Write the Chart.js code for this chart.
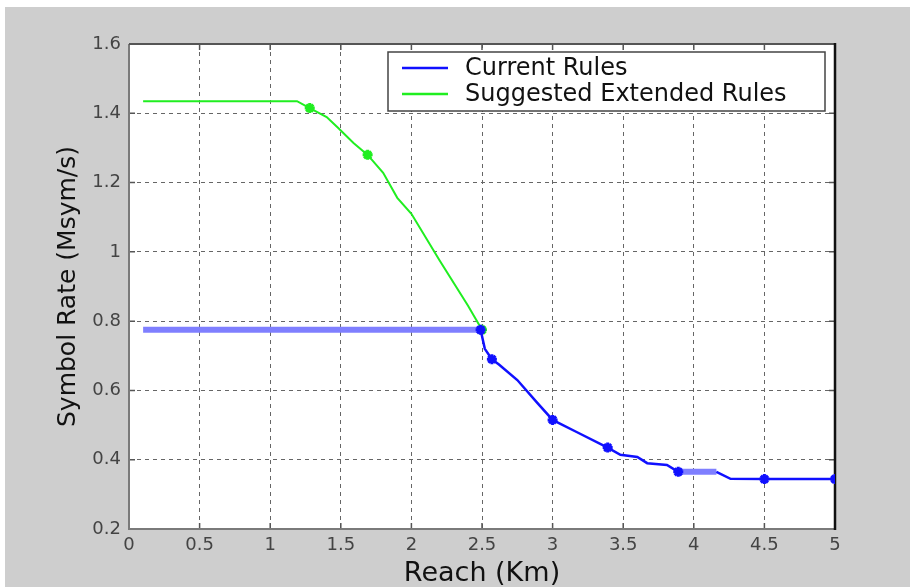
<!DOCTYPE html>
<html>
<head>
<meta charset="utf-8">
<script src="https://cdn.jsdelivr.net/npm/chart.js@4"></script>
<style>
  html, body { margin: 0; padding: 0; background: #fff; }
  canvas { display: block; }
</style>
</head>
<body>
<canvas id="grafico" width="910" height="587"></canvas>
<script>
// Current Rules (azul)
const actualX = [0.1, 2.49, 2.52, 2.57, 2.62, 2.75, 2.89, 3.0, 3.17, 3.39, 3.48, 3.6, 3.67, 3.81, 3.89, 4.16, 4.26, 4.5, 5.0];
const actualY = [0.775, 0.775, 0.72, 0.69, 0.675, 0.63, 0.565, 0.515, 0.48, 0.435, 0.414, 0.408, 0.39, 0.385, 0.365, 0.365, 0.345, 0.344, 0.344];
const actualMarcas = [2.49, 2.57, 3.0, 3.39, 3.89, 4.5, 5.0];

// Suggested Extended Rules (verde)
const sugeridoX = [0.1, 1.19, 1.28, 1.4, 1.48, 1.59, 1.69, 1.8, 1.9, 2.0, 2.2, 2.4, 2.5];
const sugeridoY = [1.435, 1.435, 1.415, 1.389, 1.358, 1.314, 1.28, 1.228, 1.156, 1.11, 0.975, 0.845, 0.775];
const sugeridoMarcas = [1.28, 1.69, 2.5];

const etiquetas = ['Current Rules', 'Suggested Extended Rules'];
const ejeX = { min: 0, max: 5, paso: 0.5, titulo: 'Reach (Km)' };
const ejeY = { min: 0.2, max: 1.6, paso: 0.2, titulo: 'Symbol Rate (Msym/s)' };

// tramos que salen mas gruesos en la imagen
const tramosGruesos = [0, 14];

function puntos(xs, ys) {
    return xs.map((x, i) => ({ x: x, y: ys[i] }));
}

// 1.0 -> "1", 0.5 -> "0.5"
function formatoTick(v) {
    return String(Number(Number(v).toFixed(2)));
}

const marco = {
    id: 'marco',
    beforeDraw(chart) {
        const { ctx, chartArea: a } = chart;
        ctx.save();
        ctx.fillStyle = '#ffffff';
        ctx.fillRect(0, 0, chart.width, chart.height);
        ctx.fillStyle = '#cecece';
        ctx.fillRect(5, 7, chart.width - 5, chart.height - 7);
        ctx.fillStyle = '#ffffff';
        ctx.fillRect(a.left, a.top, a.right - a.left, a.bottom - a.top);
        ctx.restore();
    },
    beforeDatasetsDraw(chart) {
        const { ctx, chartArea: a, scales } = chart;
        ctx.save();
        ctx.setLineDash([]);
        // marcas de los ejes hacia dentro
        ctx.strokeStyle = '#555';
        ctx.lineWidth = 1.5;
        scales.x.ticks.forEach(t => {
            const px = scales.x.getPixelForValue(t.value);
            ctx.beginPath();
            ctx.moveTo(px, a.bottom); ctx.lineTo(px, a.bottom - 6);
            ctx.moveTo(px, a.top); ctx.lineTo(px, a.top + 6);
            ctx.stroke();
        });
        scales.y.ticks.forEach(t => {
            const py = scales.y.getPixelForValue(t.value);
            ctx.beginPath();
            ctx.moveTo(a.left, py); ctx.lineTo(a.left + 6, py);
            ctx.moveTo(a.right, py); ctx.lineTo(a.right - 6, py);
            ctx.stroke();
        });
        // bordes
        ctx.lineWidth = 2;
        ctx.strokeStyle = '#7a7a7a';
        ctx.beginPath();
        ctx.moveTo(a.left, a.top); ctx.lineTo(a.left, a.bottom); ctx.lineTo(a.right, a.bottom);
        ctx.stroke();
        ctx.strokeStyle = '#555';
        ctx.beginPath();
        ctx.moveTo(a.left, a.top); ctx.lineTo(a.right, a.top);
        ctx.stroke();
        ctx.strokeStyle = '#111';
        ctx.lineWidth = 2.5;
        ctx.beginPath();
        ctx.moveTo(a.right, a.top - 1); ctx.lineTo(a.right, a.bottom + 1);
        ctx.stroke();
        ctx.restore();
    },
    afterDraw(chart) {
        const { ctx } = chart;
        ctx.save();
        ctx.fillStyle = '#ffffff';
        ctx.fillRect(388, 52, 437, 59);
        ctx.strokeStyle = '#444';
        ctx.lineWidth = 1.5;
        ctx.strokeRect(388, 52, 437, 59);
        ctx.font = '24px "DejaVu Sans"';
        ctx.textBaseline = 'middle';
        chart.data.datasets.forEach((ds, i) => {
            const y = 68 + i * 26;
            ctx.strokeStyle = ds.borderColor;
            ctx.lineWidth = 2.5;
            ctx.beginPath();
            ctx.moveTo(402, y); ctx.lineTo(448, y);
            ctx.stroke();
            ctx.fillStyle = '#111';
            ctx.fillText(ds.label, 465, y + 1);
        });
        ctx.restore();
    }
};

const ctx = document.getElementById('grafico').getContext('2d');
const myChart = new Chart(ctx, {
    type: 'line',
    data: {
        datasets: [{
            label: etiquetas[0],
            data: puntos(actualX, actualY),
            borderColor: '#1010ff',
            backgroundColor: '#1010ff',
            borderWidth: 2.5,
            pointStyle: 'star',
            pointRadius: actualX.map(x => actualMarcas.includes(x) ? 5 : 0),
            pointBorderWidth: 3,
            segment: {
                borderWidth: c => tramosGruesos.includes(c.p0DataIndex) ? 6 : 2.5,
                borderColor: c => tramosGruesos.includes(c.p0DataIndex) ? '#7f7fff' : '#1010ff'
            },
            tension: 0
        }, {
            label: etiquetas[1],
            data: puntos(sugeridoX, sugeridoY),
            borderColor: '#20ee20',
            backgroundColor: '#20ee20',
            borderWidth: 2,
            pointStyle: 'star',
            pointRadius: sugeridoX.map(x => sugeridoMarcas.includes(x) ? 5 : 0),
            pointBorderWidth: 3,
            tension: 0
        }]
    },
    options: {
        responsive: false,
        animation: false,
        devicePixelRatio: 1,
        layout: { padding: { top: 44, right: 75, left: 0, bottom: 0 } },
        plugins: {
            legend: { display: false },
            tooltip: { enabled: false }
        },
        scales: {
            x: {
                type: 'linear',
                min: ejeX.min,
                max: ejeX.max,
                afterFit: s => { s.height = 58; },
                ticks: {
                    stepSize: ejeX.paso,
                    color: '#444',
                    padding: 6,
                    font: { family: 'DejaVu Sans', size: 18 },
                    callback: formatoTick
                },
                grid: { color: '#666', lineWidth: 1, drawTicks: false },
                border: { display: false, dash: [4, 4] },
                title: {
                    display: true,
                    text: ejeX.titulo,
                    color: '#111',
                    padding: { top: 0, bottom: 0 },
                    font: { family: 'DejaVu Sans', size: 27, lineHeight: 1 }
                }
            },
            y: {
                type: 'linear',
                min: ejeY.min,
                max: ejeY.max,
                afterFit: s => { s.width = 129; },
                ticks: {
                    stepSize: ejeY.paso,
                    color: '#444',
                    padding: 8,
                    font: { family: 'DejaVu Sans', size: 18 },
                    callback: formatoTick
                },
                grid: { color: '#666', lineWidth: 1, drawTicks: false },
                border: { display: false, dash: [4, 4] },
                title: {
                    display: true,
                    text: ejeY.titulo,
                    color: '#111',
                    padding: { top: 56, bottom: 0 },
                    font: { family: 'DejaVu Sans', size: 25, lineHeight: 1 }
                }
            }
        }
    },
    plugins: [marco]
});
</script>
</body>
</html>
